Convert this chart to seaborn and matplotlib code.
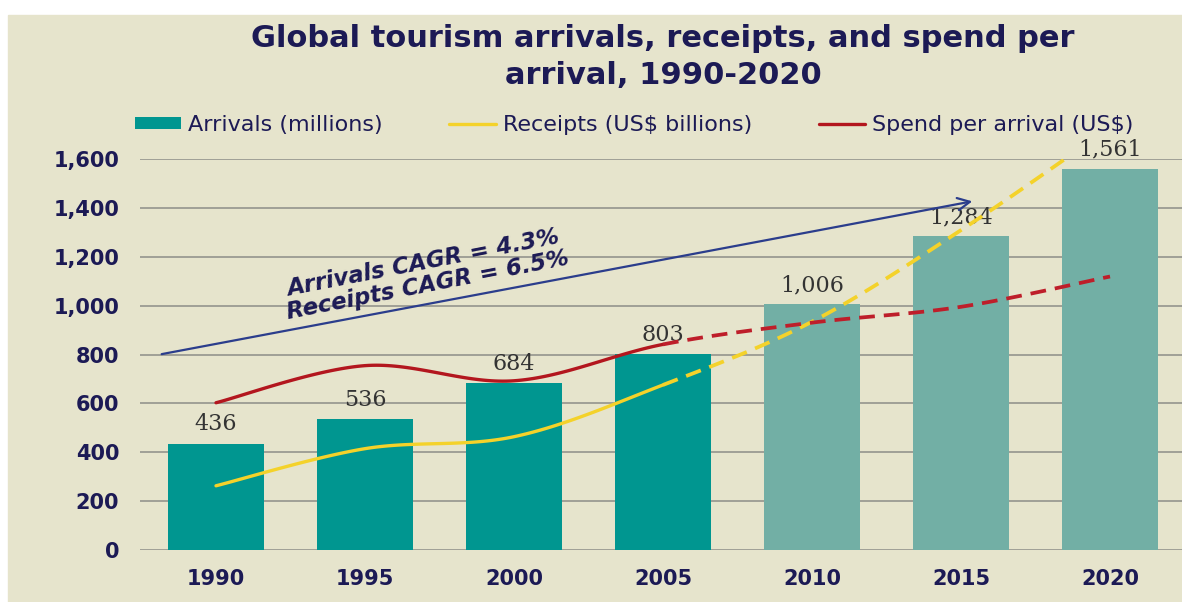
import numpy as np
import pandas as pd
import matplotlib
matplotlib.use("Agg")
import matplotlib.pyplot as plt
from matplotlib.patches import Rectangle, Patch
from matplotlib.lines import Line2D
from matplotlib.ticker import FuncFormatter
import seaborn as sns

# ---- data ----
years = ["1990", "1995", "2000", "2005", "2010", "2015", "2020"]
arrivals = [436, 536, 684, 803, 1006, 1284, 1561]          # millions
receipts = [263, 415, 464, 676, 935, 1310, 1730]           # US$ billions
spend_per_arrival = [603, 755, 693, 842, 931, 996, 1120]   # US$
actual_count = 4   # 1990-2005 are actuals, 2010-2020 are forecasts

series_labels = ["Arrivals (millions)", "Receipts (US$ billions)", "Spend per arrival (US$)"]
title = "Global tourism arrivals, receipts, and spend per\narrival, 1990-2020"
cagr_lines = ["Arrivals CAGR = 4.3%", "Receipts CAGR = 6.5%"]

# ---- styling ----
BG = "#E6E4CC"
TEAL = "#009690"
TEAL_LIGHT = "#72AFA5"
YELLOW = "#F4D22A"
RED = "#B3161E"
RED_DASH = "#BE1E2A"
NAVY = "#1C1A55"
ARROW = "#2B3D8C"
GRID = "#9A9A92"

sns.set_theme(style="white")
plt.rcParams["font.family"] = ["DejaVu Sans"]

W, H = 1182, 602
fig = plt.figure(figsize=(W / 100, H / 100), dpi=100, facecolor="white")
fig.patches.append(Rectangle((8 / W, 0), 1 - 8 / W, 1 - 15 / H,
                             transform=fig.transFigure, color=BG, zorder=-10))

ax = fig.add_axes([140 / W, 52 / H, 1 - 140 / W, (550 - 159.3) / H])
ax.set_facecolor("none")

df = pd.DataFrame({"year": years, "arrivals": arrivals})
bar_colors = [TEAL] * actual_count + [TEAL_LIGHT] * (len(years) - actual_count)
sns.barplot(data=df, x="year", y="arrivals", hue="year", palette=bar_colors,
            legend=False, width=0.645, saturation=1, linewidth=0, ax=ax, zorder=2)

for cont in ax.containers:
    ax.bar_label(cont, labels=[f"{v:,.0f}" for v in cont.datavalues],
                 padding=6, fontsize=16, family="DejaVu Serif", color="#333333")


def smooth_segments(ys, n=40):
    """Bezier smoothing between consecutive points; returns one piece per interval."""
    xs = np.arange(len(ys), dtype=float)
    pts = np.column_stack([xs, np.asarray(ys, dtype=float)])
    pieces = []
    t = np.linspace(0, 1, n)[:, None]
    for i in range(len(pts) - 1):
        p0 = pts[i - 1] if i > 0 else pts[i]
        p1, p2 = pts[i], pts[i + 1]
        p3 = pts[i + 2] if i + 2 < len(pts) else pts[i + 1]
        c1 = p1 + (p2 - p0) / 6
        c2 = p2 - (p3 - p1) / 6
        b = ((1 - t) ** 3) * p1 + 3 * ((1 - t) ** 2) * t * c1 + 3 * (1 - t) * t ** 2 * c2 + t ** 3 * p2
        pieces.append(b)
    return pieces


def draw_series(ys, solid_color, dash_color):
    pieces = smooth_segments(ys)
    solid = np.vstack(pieces[:actual_count - 1])
    dashed = np.vstack(pieces[actual_count - 1:])
    ax.plot(solid[:, 0], solid[:, 1], color=solid_color, lw=2.4, zorder=4,
            solid_capstyle="round")
    ax.plot(dashed[:, 0], dashed[:, 1], color=dash_color, lw=2.7, zorder=4,
            linestyle=(0, (4.2, 2.4)))


draw_series(receipts, YELLOW, YELLOW)
draw_series(spend_per_arrival, RED, RED_DASH)

# growth arrow with CAGR note
ax.annotate("", xy=(5.094, 1430), xytext=(-0.383, 800),
            arrowprops=dict(arrowstyle="->", color=ARROW, lw=1.6, mutation_scale=22),
            zorder=5, annotation_clip=False)
ax.text(0.485, 1040, cagr_lines[0], rotation=11, rotation_mode="anchor",
        ha="left", va="baseline", fontsize=16.5, fontweight="bold", style="italic",
        color=NAVY, zorder=6)
ax.text(0.485, 945, cagr_lines[1], rotation=11, rotation_mode="anchor",
        ha="left", va="baseline", fontsize=16.5, fontweight="bold", style="italic",
        color=NAVY, zorder=6)

# axes
ax.set_xlim(-0.51, 6.483)
ax.set_ylim(0, 1600)
ax.set_yticks(range(0, 1601, 200))
ax.yaxis.set_major_formatter(FuncFormatter(lambda v, p: f"{v:,.0f}"))
ax.yaxis.grid(True, color=GRID, lw=1.3, zorder=0)
ax.set_axisbelow(True)
for s in ax.spines.values():
    s.set_visible(False)
ax.tick_params(axis="both", length=0, labelcolor=NAVY, labelsize=15)
ax.tick_params(axis="y", pad=15)
ax.tick_params(axis="x", pad=14)
for lab in ax.get_xticklabels() + ax.get_yticklabels():
    lab.set_fontweight("bold")
ax.set_xlabel("")
ax.set_ylabel("")

fig.text(663 / W, 1 - 24 / H, title, ha="center", va="top", fontsize=22,
         fontweight="bold", color=NAVY, linespacing=1.35)

handles = [Patch(facecolor=TEAL, edgecolor="none"),
           Line2D([], [], color=YELLOW, lw=2.4),
           Line2D([], [], color=RED, lw=2.4)]
fig.legend(handles, series_labels, loc="center", bbox_to_anchor=(634 / W, 1 - 125 / H),
           ncol=3, frameon=False, fontsize=16, labelcolor=NAVY,
           handlelength=2.1, handleheight=0.42, handletextpad=0.3, columnspacing=3.0)

fig.savefig("out.png", dpi=100, facecolor="white")
